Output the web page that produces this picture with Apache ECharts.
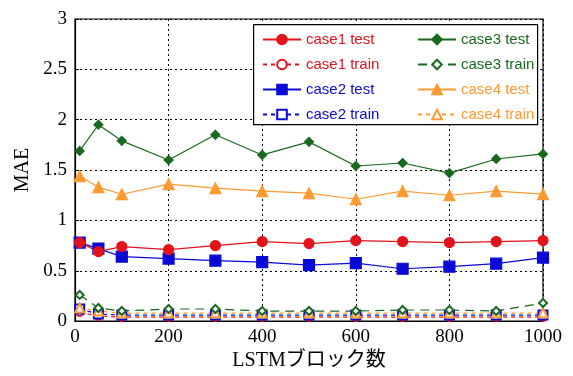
<!DOCTYPE html>
<html>
<head>
<meta charset="utf-8">
<script src="https://cdn.jsdelivr.net/npm/echarts@6/dist/echarts.min.js"></script>
<style>
  html, body { margin: 0; padding: 0; background: #fff; }
  #chart { width: 573px; height: 376px; }
</style>
</head>
<body>
<div id="chart"></div>
<script>
// LSTM block counts on the x axis
const blocks = [10, 50, 100, 200, 300, 400, 500, 600, 700, 800, 900, 1000];

// MAE per case
const case1Test  = [0.78, 0.69, 0.74, 0.71, 0.75, 0.79, 0.77, 0.80, 0.79, 0.78, 0.79, 0.80];
const case1Train = [0.09, 0.05, 0.04, 0.04, 0.04, 0.04, 0.04, 0.04, 0.04, 0.04, 0.04, 0.04];
const case2Test  = [0.78, 0.72, 0.64, 0.62, 0.60, 0.585, 0.555, 0.575, 0.52, 0.54, 0.57, 0.63];
const case2Train = [0.12, 0.07, 0.06, 0.06, 0.06, 0.06, 0.06, 0.06, 0.06, 0.06, 0.06, 0.06];
const case3Test  = [1.69, 1.95, 1.79, 1.60, 1.85, 1.65, 1.78, 1.54, 1.57, 1.47, 1.61, 1.66];
const case3Train = [0.26, 0.13, 0.10, 0.12, 0.12, 0.10, 0.10, 0.10, 0.11, 0.11, 0.10, 0.18];
const case4Test  = [1.44, 1.33, 1.26, 1.36, 1.32, 1.29, 1.27, 1.21, 1.29, 1.25, 1.29, 1.26];
const case4Train = [0.13, 0.10, 0.08, 0.08, 0.08, 0.08, 0.08, 0.08, 0.08, 0.08, 0.08, 0.08];

const xTicks = [0, 200, 400, 600, 800, 1000];
const yTicks = [0, 0.5, 1, 1.5, 2, 2.5, 3];

const RED = '#e3121b', BLUE = '#0a0ad6', GREEN = '#196a1e', ORANGE = '#ff9a33';

const pair = (xs, ys) => xs.map((x, i) => [x, ys[i]]);

function mk(name, values, color, symbol, size, dash, width) {
  return {
    name: name,
    type: 'line',
    data: pair(blocks, values),
    symbol: symbol,
    symbolSize: size,
    showAllSymbol: true,
    lineStyle: { color: color, width: width || 1.2, type: dash || 'solid' },
    itemStyle: { color: color, borderColor: color, borderWidth: 1.2 },
    emphasis: { disabled: true },
    animation: false
  };
}

const series = [
  mk('case1 train', case1Train, RED, 'emptyCircle', 8, [4, 4]),
  mk('case2 train', case2Train, BLUE, 'emptyRect', 9, [4, 4]),
  mk('case4 train', case4Train, ORANGE, 'emptyTriangle', 9, [4, 4]),
  mk('case3 train', case3Train, GREEN, 'emptyDiamond', 8, [9, 6]),
  mk('case4 test', case4Test, ORANGE, 'triangle', 11),
  mk('case3 test', case3Test, GREEN, 'diamond', 9),
  mk('case2 test', case2Test, BLUE, 'rect', 11),
  mk('case1 test', case1Test, RED, 'circle', 10)
];

const legendText = { fontFamily: 'Liberation Sans, Arial, sans-serif', fontSize: 15 };
const item = (name, color) => ({ name: name, textStyle: Object.assign({ color: color }, legendText) });

const legendBase = {
  orient: 'vertical', top: 32, z: 6, padding: 0,
  itemWidth: 38, itemHeight: 12, itemGap: 10,
  textStyle: legendText
};

const chart = echarts.init(document.getElementById('chart'), null, { renderer: 'canvas' });
chart.setOption({
  backgroundColor: '#fff',
  animation: false,
  grid: { left: 75, right: 30, top: 19, bottom: 46, show: true, borderColor: '#000', borderWidth: 1.2, backgroundColor: 'transparent' },
  xAxis: {
    type: 'value', min: xTicks[0], max: xTicks[xTicks.length - 1], interval: xTicks[1] - xTicks[0],
    name: 'LSTMブロック数', nameLocation: 'middle', nameGap: 26,
    nameTextStyle: { fontFamily: 'Liberation Serif, Noto Sans CJK JP, serif', fontSize: 20, color: '#000' },
    axisLine: { lineStyle: { color: '#000', width: 1.2 } },
    axisTick: { inside: true, length: 4, lineStyle: { color: '#000' } },
    axisLabel: { color: '#000', fontFamily: 'Liberation Serif, serif', fontSize: 19, margin: 6, formatter: v => String(v) },
    splitLine: { show: true, lineStyle: { color: '#000', type: [2, 3], width: 1 } }
  },
  yAxis: {
    type: 'value', min: yTicks[0], max: yTicks[yTicks.length - 1], interval: yTicks[1] - yTicks[0],
    name: 'MAE', nameLocation: 'middle', nameGap: 38, nameRotate: 90,
    nameTextStyle: { fontFamily: 'Liberation Serif, serif', fontSize: 20, color: '#000' },
    axisLine: { show: true, lineStyle: { color: '#000', width: 1.2 } },
    axisTick: { show: true, inside: true, length: 4, lineStyle: { color: '#000' } },
    axisLabel: { color: '#000', fontFamily: 'Liberation Serif, serif', fontSize: 19, margin: 8 },
    splitLine: { show: true, lineStyle: { color: '#000', type: [2, 3], width: 1 } }
  },
  graphic: [{
    type: 'rect', left: 253, top: 24, z: 5,
    shape: { width: 284, height: 100 },
    style: { fill: '#fff', stroke: '#000', lineWidth: 1.2 }
  }],
  legend: [
    Object.assign({}, legendBase, {
      left: 262,
      data: [item('case1 test', RED), item('case1 train', RED), item('case2 test', BLUE), item('case2 train', BLUE)]
    }),
    Object.assign({}, legendBase, {
      left: 417,
      data: [item('case3 test', GREEN), item('case3 train', GREEN), item('case4 test', ORANGE), item('case4 train', ORANGE)]
    })
  ],
  series: series
});
</script>
</body>
</html>
